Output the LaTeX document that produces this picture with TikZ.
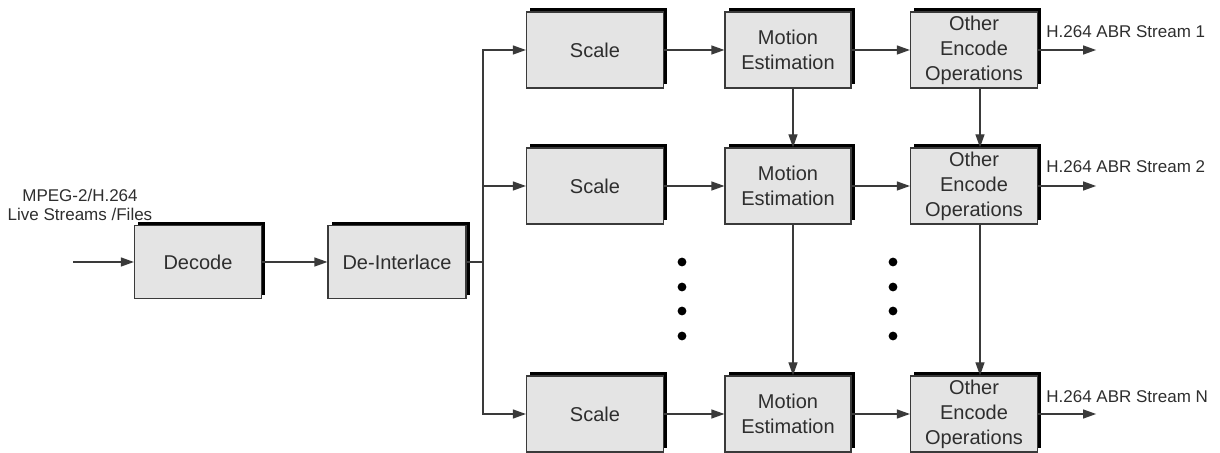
\documentclass[tikz,border=0pt]{standalone}
\usepackage{fontspec}
\setsansfont{Liberation Sans}
\usepackage{tikz}
\usetikzlibrary{positioning}
\usetikzlibrary{arrows.meta}
\usetikzlibrary{shadows}
\definecolor{boxFill}{HTML}{E4E4E4}
\definecolor{edgeColor}{HTML}{3A3A3A}
\definecolor{textColor}{HTML}{2E2E2E}

\begin{document}
\begin{tikzpicture}[x=0.5pt, y=-0.5pt,
		blk/.style={draw=edgeColor, fill=boxFill, line width=0.6pt, minimum height=38pt, inner sep=1pt, align=center, text=textColor, font=\sffamily\fontsize{10}{12.5}\selectfont, general shadow={fill=black, shadow xshift=1.75pt, shadow yshift=1.75pt}},
		lb/.style={font=\sffamily\fontsize{8.5}{9.5}\selectfont, text=textColor, align=center, inner sep=0pt},
		arr/.style={draw=edgeColor, line width=0.6pt, -{Triangle[length=6.5pt, width=4.5pt]}}
		]
		\useasboundingbox (0,0) rectangle (1220,453);

		\node[blk, minimum width=63.5pt, minimum height=36.5pt] (dec) at (198,262) {Decode};
		\node[blk, minimum width=69pt, minimum height=36.5pt] (dei) at (397,262) {De-Interlace};
		\coordinate (src) at (73,262);
		\node[lb] (srcLabel) at (80,205) {MPEG-2/H.264\\Live Streams /Files};

		\draw[arr] (src) -- (dec.west);
		\draw[arr] (dec.east) -- (dei.west);
		\coordinate (br) at (483,262);
		\draw[draw=edgeColor, line width=0.6pt] (dei.east) -- (br);

		\node[blk, minimum width=68.5pt] (sc1) at (595,50) {Scale};
		\node[blk, minimum width=68.5pt] (sc2) at (595,186) {Scale};
		\node[blk, minimum width=68.5pt] (sc3) at (595,414) {Scale};

		\node[blk, minimum width=63pt] (me1) at (788,50) {Motion\\Estimation};
		\node[blk, minimum width=63pt] (me2) at (788,186) {Motion\\Estimation};
		\node[blk, minimum width=63pt] (me3) at (788,414) {Motion\\Estimation};

		\node[blk, minimum width=63.5pt] (oe1) at (974,50) {Other\\Encode\\Operations};
		\node[blk, minimum width=63.5pt] (oe2) at (974,186) {Other\\Encode\\Operations};
		\node[blk, minimum width=63.5pt] (oe3) at (974,414) {Other\\Encode\\Operations};

		\draw[arr] (br) |- (sc1.west);
		\draw[arr] (br) |- (sc2.west);
		\draw[arr] (br) |- (sc3.west);

		\foreach \r in {1,2,3} {
			\draw[arr] (sc\r.east) -- (me\r.west);
			\draw[arr] (me\r.east) -- (oe\r.west);
			\coordinate (out\r) at ([xshift=29pt]oe\r.east);
			\draw[arr] (oe\r.east) -- (out\r);
		}

		\node[lb, anchor=west] (st1) at (1046,32) {H.264 ABR Stream 1};
		\node[lb, anchor=west] (st2) at (1046,167) {H.264 ABR Stream 2};
		\node[lb, anchor=west] (st3) at (1046,397) {H.264 ABR Stream N};

		\draw[arr] ([xshift=2.5pt]me1.south) -- ([xshift=2.5pt]me2.north);
		\draw[arr] ([xshift=2.5pt]me2.south) -- ([xshift=2.5pt]me3.north);
		\draw[arr] ([xshift=3pt]oe1.south) -- ([xshift=3pt]oe2.north);
		\draw[arr] ([xshift=3pt]oe2.south) -- ([xshift=3pt]oe3.north);

		\foreach \y in {262,287,311,336} {
			\fill (682,\y) circle (2.2pt);
			\fill (893,\y) circle (2.2pt);
		}
	\end{tikzpicture}
\end{document}
